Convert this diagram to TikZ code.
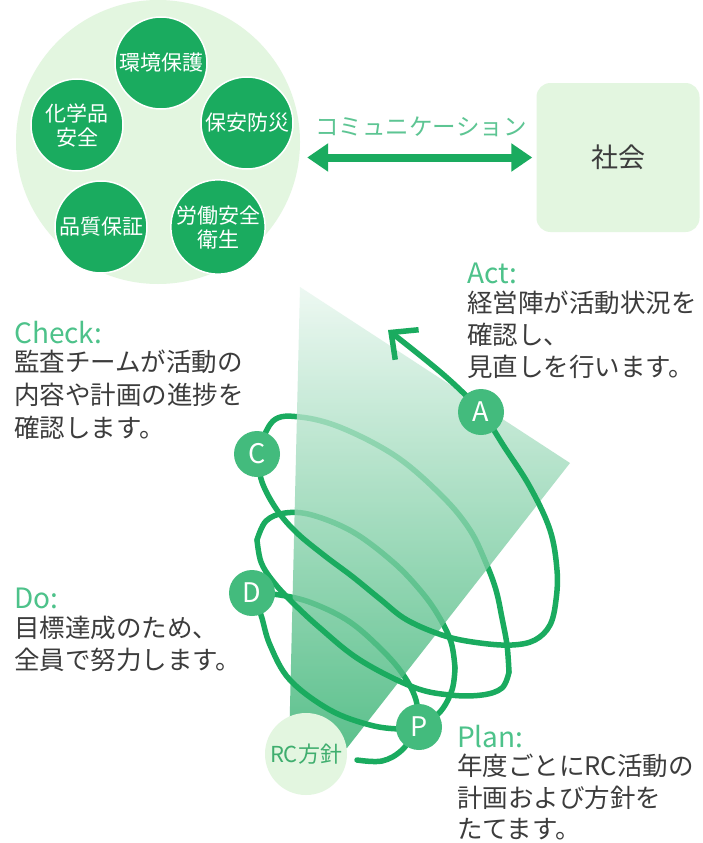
\documentclass[tikz,border=0pt]{standalone}
\usepackage{fontspec}
\setmainfont{Noto Sans CJK JP}
\usetikzlibrary{arrows.meta}
\definecolor{dgreen}{HTML}{1AAB5F}
\definecolor{lgreen}{HTML}{E3F6E0}
\definecolor{lettergreen}{HTML}{43BB7D}
\definecolor{labelgreen}{HTML}{4DC28A}
\definecolor{commgreen}{HTML}{5DC593}
\definecolor{rcgreen}{HTML}{3FAE6E}
\definecolor{txt}{HTML}{3C3C3C}
\definecolor{fantop}{RGB}{233,247,239}
\definecolor{fanbot}{RGB}{51,177,112}
\begin{document}
\begin{tikzpicture}[x=1pt,y=-1pt,
  hub/.style={circle,fill=dgreen,draw=white,line width=1.5pt,minimum size=92pt,inner sep=0pt,text=white,font=\fontsize{21}{24}\selectfont,align=center},
  pdca/.style={circle,fill=lettergreen,minimum size=46pt,inner sep=0pt,text=white,font=\fontsize{27}{27}\selectfont},
  coil/.style={draw=dgreen,line width=5.5pt,line cap=round,line join=round},
  lbl/.style={anchor=base west,inner sep=0pt,text=labelgreen,font=\fontsize{28}{28}\selectfont},
  body/.style={anchor=base west,inner sep=0pt,text=txt,font=\fontsize{25.5}{25.5}\selectfont},
  softbox/.style={fill=lgreen,inner sep=0pt}
]
\useasboundingbox (0,0) rectangle (702,843);
\fill[white] (0,0) rectangle (702,843);

% cluster of activities
\node[softbox,circle,minimum size=284pt] (cluster) at (158,142) {};
\node[hub] (env) at (161,63) {環境保護};
\node[hub] (chem) at (77,125) {化学品\\安全};
\node[hub] (safe) at (247,123) {保安防災};
\node[hub] (qual) at (101,227) {品質保証};
\node[hub] (labor) at (218,227) {労働安全\\衛生};

% society
\node[softbox,rounded corners=14pt,minimum width=163pt,minimum height=149pt,text=txt,font=\fontsize{27}{27}\selectfont] (soc) at (618,157.5) {社会};

\draw[dgreen,line width=8pt,shorten <=7pt,shorten >=4pt,{Triangle[length=21pt,width=27pt]}-{Triangle[length=21pt,width=27pt]}] (cluster.east |- soc.center) -- (soc.west);
\node[text=commgreen,font=\fontsize{23.5}{23.5}\selectfont,inner sep=0pt] (comm) at (421,127) {コミュニケーション};

% coil anchor points
\coordinate (Pp) at (419,727);
\coordinate (Dp) at (252,593);
\coordinate (Cp) at (257,454);
\coordinate (Ap) at (481,412);

% back arcs (behind the fan)
\draw[coil] plot[smooth,tension=0.6] coordinates {(Pp) (416,700) (404,676) (384,652) (350,622) (312,603) (280,595) (Dp)};
\draw[coil] plot[smooth,tension=0.6] coordinates {(455,668) (451,642) (438,615) (420,590) (393,562) (353,532) (312,515) (285,513) (266,521) (257,540)};
\draw[coil] plot[smooth,tension=0.6] coordinates {(509,672) (507,645) (502,618) (496,590) (486,563) (470,530) (443,497) (397,457) (342,428) (300,417) (273,421) (Cp)};

% fan
\shade[top color=fantop,bottom color=fanbot,fill opacity=0.8] (300,287) -- (570,463) -- (347,748) -- (289,748) -- cycle;

% front arcs
\draw[coil] plot[smooth,tension=0.6] coordinates {(357,760) (382,761) (402,750) (Pp)};
\draw[coil] plot[smooth,tension=0.6] coordinates {(Dp) (261,615) (270,645) (290,680) (330,710) (370,725) (400,729) (Pp) (440,712) (452,690) (455,668)};
\draw[coil] plot[smooth,tension=0.6] coordinates {(257,540) (261,562) (272,580) (290,600) (320,628) (360,660) (413,687) (450,695) (482,695) (502,688) (509,672)};
\draw[coil,-{Straight Barb[length=20pt,width=38pt,sharp]}] plot[smooth,tension=0.6] coordinates {(Cp) (262,482) (277,510) (297,533) (325,556) (353,577) (380,599) (407,620) (445,636) (480,643) (512,645) (535,640) (550,625) (556,600) (557,570) (550,530) (530,487) (505,448) (Ap) (445,376) (388,330)};

% PDCA markers
\node[pdca] (P) at (Pp) {P};
\node[pdca] (D) at (Dp) {D};
\node[pdca] (C) at (Cp) {C};
\node[pdca] (A) at (Ap) {A};
\node[softbox,circle,minimum size=82pt,text=rcgreen,font=\fontsize{22}{22}\selectfont] (rc) at (306,754) {RC方針};

% texts
\node[lbl] (chkL) at (14,343) {Check:};
\node[body] (chk1) at (14,371) {監査チームが活動の};
\node[body] (chk2) at (14,404) {内容や計画の進捗を};
\node[body] (chk3) at (14,437) {確認します。};

\node[lbl] (doL) at (14,608) {Do:};
\node[body] (do1) at (14,637) {目標達成のため、};
\node[body] (do2) at (14,669) {全員で努力します。};

\node[lbl] (actL) at (467,283) {Act:};
\node[body] (act1) at (467,312) {経営陣が活動状況を};
\node[body] (act2) at (467,344) {確認し、};
\node[body] (act3) at (467,376) {見直しを行います。};

\node[lbl] (planL) at (457,747) {Plan:};
\node[body] (plan1) at (457,775) {年度ごとにRC活動の};
\node[body] (plan2) at (457,807) {計画および方針を};
\node[body] (plan3) at (457,838) {たてます。};
\end{tikzpicture}
\end{document}
